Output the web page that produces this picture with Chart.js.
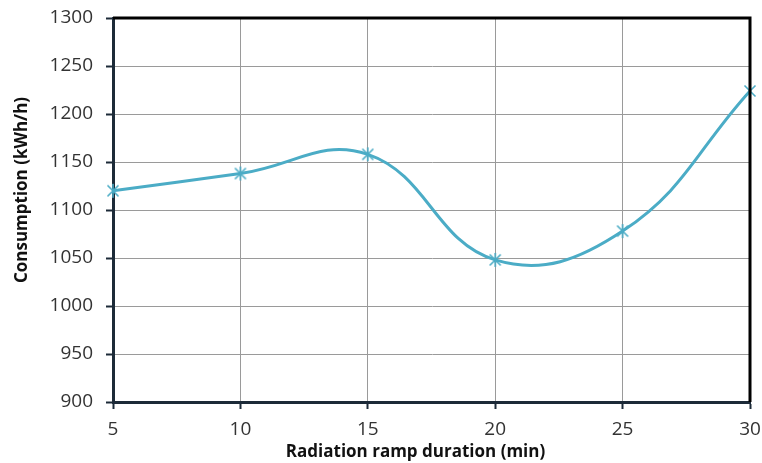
<!DOCTYPE html>
<html>
<head>
<meta charset="utf-8">
<script src="https://cdn.jsdelivr.net/npm/chart.js@4"></script>
<style>
  html, body { margin: 0; padding: 0; background: #fff; }
  #wrap { width: 762px; height: 463px; }
</style>
</head>
<body>
<div id="wrap"><canvas id="chart" width="762" height="463"></canvas></div>
<script>
const durations = [5, 10, 15, 20, 25, 30];
const consumption = [1120, 1138, 1158, 1048, 1078, 1224];
const yTicks = [900, 950, 1000, 1050, 1100, 1150, 1200, 1250, 1300];
const xTicks = [5, 10, 15, 20, 25, 30];
const xTitle = 'Radiation ramp duration (min)';
const yTitle = 'Consumption (kWh/h)';

const lineColor = '#4bacc6';
const axisColor = '#1c2a38';
const titleFont = 'bold 17px "Open Sans"';

// excel-style asterisk marker
function makeMarker() {
  const c = document.createElement('canvas');
  c.width = 16; c.height = 16;
  const g = c.getContext('2d');
  g.strokeStyle = lineColor;
  g.lineWidth = 1.6;
  g.beginPath();
  g.moveTo(2.5, 2.5); g.lineTo(13.5, 13.5);
  g.moveTo(13.5, 2.5); g.lineTo(2.5, 13.5);
  g.moveTo(8, 1); g.lineTo(8, 15);
  g.stroke();
  return c;
}

// top/right frame lines and the axis titles (placed like the excel original)
const frameAndTitles = {
  id: 'frameAndTitles',
  afterDatasetsDraw(chart) {
    const { ctx, chartArea: a } = chart;
    ctx.save();
    ctx.strokeStyle = '#000';
    ctx.lineWidth = 3;
    ctx.beginPath();
    ctx.moveTo(a.left, a.top);
    ctx.lineTo(a.right, a.top);
    ctx.lineTo(a.right, a.bottom);
    ctx.stroke();

    ctx.fillStyle = '#111';
    ctx.font = titleFont;
    ctx.textAlign = 'center';
    ctx.textBaseline = 'middle';
    ctx.fillText(xTitle, (a.left + a.right) / 2 - 16, 452);
    ctx.translate(22, (a.top + a.bottom) / 2 - 20);
    ctx.rotate(-Math.PI / 2);
    ctx.fillText(yTitle, 0, 0);
    ctx.restore();
  }
};

new Chart(document.getElementById('chart'), {
  type: 'line',
  data: {
    datasets: [{
      data: durations.map((d, i) => ({ x: d, y: consumption[i] })),
      borderColor: lineColor,
      borderWidth: 3,
      tension: 0.42,
      pointStyle: makeMarker(),
      pointRadius: 7,
      fill: false,
      clip: false
    }]
  },
  options: {
    responsive: false,
    animation: false,
    layout: { padding: { top: 18, right: 12, left: 0, bottom: 0 } },
    plugins: { legend: { display: false }, tooltip: { enabled: false } },
    scales: {
      x: {
        type: 'linear',
        min: 5, max: 30,
        afterBuildTicks: s => { s.ticks = xTicks.map(v => ({ value: v })); },
        afterFit: s => { s.height = 61; s.paddingLeft = 0; s.paddingRight = 0; },
        grid: { color: '#9a9a9a', lineWidth: 1, tickColor: axisColor, tickLength: 7, tickWidth: 2 },
        border: { color: axisColor, width: 3 },
        ticks: { color: '#333', font: { family: 'Open Sans', size: 19 }, padding: 9, maxRotation: 0,
                 callback: v => String(v) }
      },
      y: {
        min: 900, max: 1300,
        afterBuildTicks: s => { s.ticks = yTicks.map(v => ({ value: v })); },
        afterFit: s => { s.width = 113; s.paddingTop = 0; s.paddingBottom = 0; },
        grid: { color: '#9a9a9a', lineWidth: 1, tickColor: axisColor, tickLength: 7, tickWidth: 2 },
        border: { color: axisColor, width: 3 },
        ticks: { color: '#333', font: { family: 'Open Sans', size: 19 }, padding: 13,
                 callback: v => String(v) }
      }
    }
  },
  plugins: [frameAndTitles]
});
</script>
</body>
</html>
